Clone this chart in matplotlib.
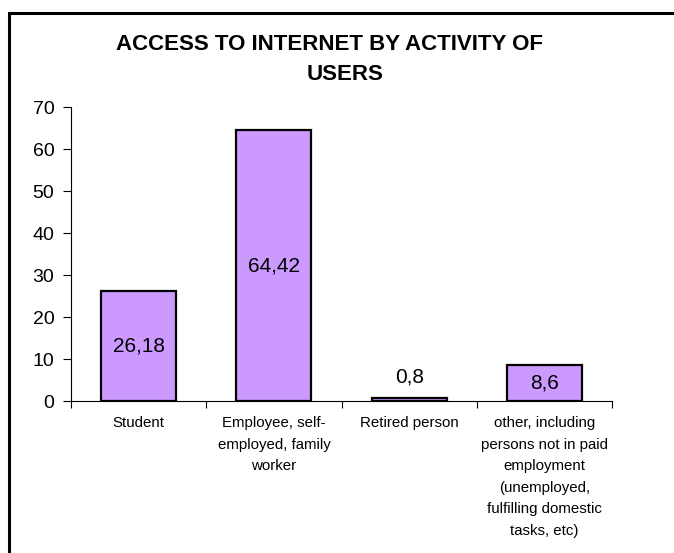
import matplotlib.pyplot as plt
from matplotlib.patches import Rectangle

plt.rcParams['font.family'] = ['Liberation Sans', 'DejaVu Sans']

categories = ['Student', 'Employee, self-\nemployed, family\nworker', 'Retired person',
              'other, including\npersons not in paid\nemployment\n(unemployed,\nfulfilling domestic\ntasks, etc)']
values = [26.18, 64.42, 0.8, 8.6]
labels = ['26,18', '64,42', '0,8', '8,6']
yticks = [0, 10, 20, 30, 40, 50, 60, 70]

W, H = 674, 553
fig = plt.figure(figsize=(W / 100, H / 100), dpi=100)
ax = fig.add_axes([71 / W, 1 - 401 / H, (612 - 71) / W, (401 - 107) / H])

x = list(range(len(values)))
ax.bar(x, values, width=0.556, color='#CC99FF', edgecolor='black', linewidth=1.6, zorder=3)

# data labels: centred in the bar, small ones above
for xi, v, lab in zip(x, values, labels):
    if v < 3:
        ax.annotate(lab, (xi, v), xytext=(0, 8), textcoords='offset points',
                    ha='center', va='bottom', fontsize=15)
    else:
        ax.text(xi, v / 2, lab, ha='center', va='center', fontsize=15)

ax.set_xlim(-0.5, len(values) - 0.5)
ax.set_ylim(0, 70)
ax.set_yticks(yticks)
ax.tick_params(axis='y', labelsize=14, length=6, width=0.8, pad=6)
ax.set_xticks(x)
ax.set_xticklabels(categories, fontsize=10.8, linespacing=1.68)
ax.tick_params(axis='x', which='major', length=0, pad=11)
ax.set_xticks([i - 0.5 for i in range(len(values) + 1)], minor=True)
ax.tick_params(axis='x', which='minor', length=5, width=0.8, direction='out')
for s in ['top', 'right']:
    ax.spines[s].set_visible(False)
for s in ['left', 'bottom']:
    ax.spines[s].set_linewidth(0.8)

# title
fig.text(330 / W, 1 - 44 / H, 'ACCESS TO INTERNET BY ACTIVITY OF', ha='center', va='center',
         fontsize=16, fontweight='bold')
fig.text(345 / W, 1 - 75 / H, 'USERS', ha='center', va='center', fontsize=16, fontweight='bold')

# chart area frame (runs off right and bottom edges)
fig.patches.append(Rectangle((9 / W, -0.1), 1.2, 1 - 13 / H + 0.1, transform=fig.transFigure,
                             fill=False, edgecolor='black', linewidth=2.2))

fig.savefig('out.png', dpi=100)
